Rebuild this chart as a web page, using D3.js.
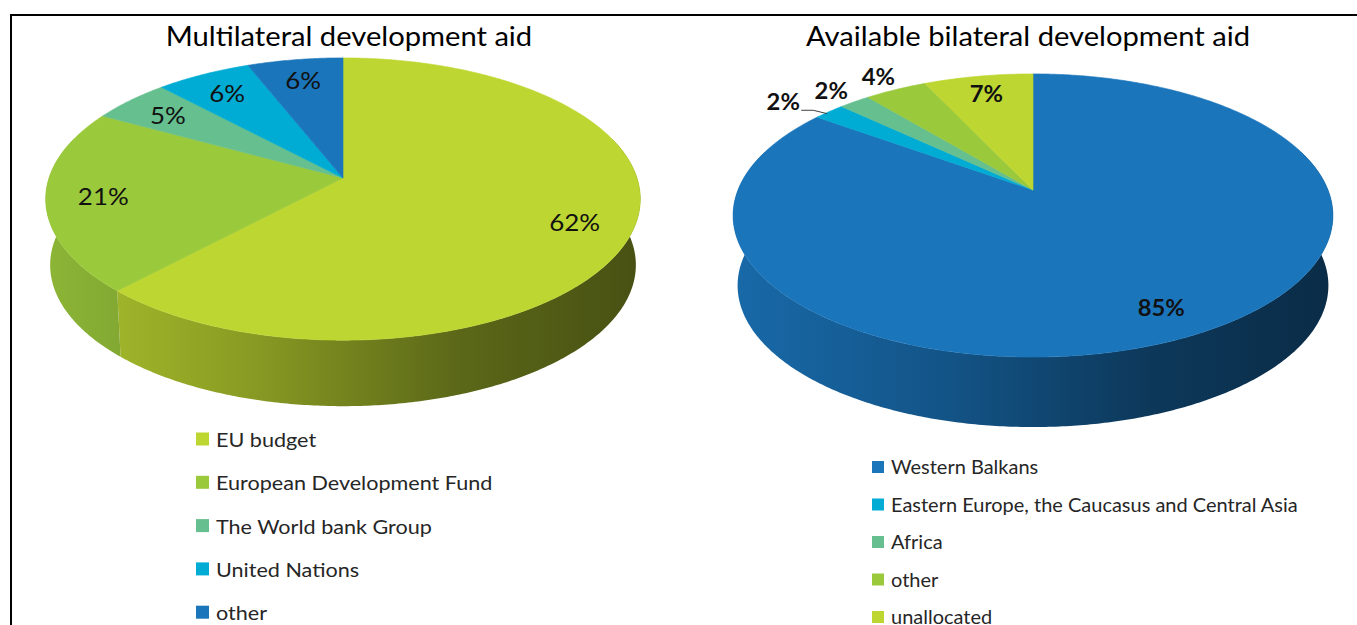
<!DOCTYPE html>
<html lang="en">
<head>
<meta charset="UTF-8">
<title>Development aid</title>
<script src="https://cdn.jsdelivr.net/npm/d3@7"></script>
<style>
  body { margin: 0; background: #fff; }
  text { font-family: Lato, "Open Sans", sans-serif; }
</style>
</head>
<body>
<svg id="chart" width="1357" height="625"></svg>
<script>
// data
const multiTitle = "Multilateral development aid";
const multiCategories = ["EU budget", "European Development Fund", "The World bank Group", "United Nations", "other"];
const multiValues = [62, 21, 5, 6, 6];
const multiColors = ["#bdd631", "#9bc93c", "#66bf8e", "#00acd4", "#1b75bb"];

const biTitle = "Available bilateral development aid";
const biCategories = ["Western Balkans", "Eastern Europe, the Caucasus and Central Asia", "Africa", "other", "unallocated"];
const biValues = [85, 2, 2, 4, 7];
const biColors = ["#1b75bb", "#00acd4", "#66bf8e", "#9bc93c", "#bdd631"];

const svg = d3.select("#chart");
const defs = svg.append("defs");
const stretch = 1.08; // the original text is a bit wide

// frame
svg.append("path")
  .attr("d", "M11,640V15H1357")
  .attr("fill", "none")
  .attr("stroke", "#000")
  .attr("stroke-width", 2);

const pie = d3.pie().sort(null).value(d => d.value);

function shade(c, f) {
  const col = d3.rgb(c);
  return d3.rgb(col.r * f, col.g * f, col.b * f).formatHex();
}

function addText(parent, x, y, str) {
  return parent.append("text")
    .attr("transform", `translate(${x},${y}) scale(${stretch},1)`)
    .text(str);
}

function drawPie(opt) {
  const g = svg.append("g");
  const data = opt.categories.map((c, i) => ({name: c, value: opt.values[i], color: opt.colors[i]}));
  const arcs = pie(data);

  // perspective projection of a point on the unit disc (angle from top, clockwise)
  const proj = (a, k, dz) => {
    const x = k * Math.sin(a), y = -k * Math.cos(a);
    const f = 1 / (1 - opt.p * y);
    let X = opt.cx + opt.A * x * f;
    const Y = opt.cy + opt.B * y * f + (dz || 0);
    if (dz) X = opt.cx + (X - opt.cx) * opt.shrink;
    return [X, Y];
  };
  const samples = (a0, a1) => {
    const n = Math.max(2, Math.ceil((a1 - a0) / 0.01));
    return d3.range(n + 1).map(i => a0 + (a1 - a0) * i / n);
  };

  // side walls (front part only)
  const lo = Math.PI / 2 - 0.3, hi = 3 * Math.PI / 2 + 0.3;
  arcs.forEach((a, i) => {
    const a0 = Math.max(a.startAngle, lo), a1 = Math.min(a.endAngle, hi);
    if (a1 <= a0) return;
    const id = opt.id + "-side-" + i;
    const grad = defs.append("linearGradient")
      .attr("id", id)
      .attr("gradientUnits", "userSpaceOnUse")
      .attr("x1", opt.cx - opt.A).attr("x2", opt.cx + opt.A)
      .attr("y1", 0).attr("y2", 0);
    [[0, 0.9], [0.35, 0.72], [0.7, 0.48], [1, 0.38]].forEach(s => {
      grad.append("stop").attr("offset", s[0]).attr("stop-color", shade(a.data.color, s[1]));
    });
    const as = samples(a0, a1);
    const top = as.map(t => proj(t, 1, 0));
    const bot = as.slice().reverse().map(t => proj(t, 1, opt.depth));
    g.append("path")
      .attr("d", d3.line()(top.concat(bot)) + "Z")
      .attr("fill", "url(#" + id + ")");
  });

  // top faces
  arcs.forEach(a => {
    const pts = [[opt.cx, opt.cy]].concat(samples(a.startAngle, a.endAngle).map(t => proj(t, 1, 0)));
    g.append("path")
      .attr("d", d3.line()(pts) + "Z")
      .attr("fill", a.data.color)
      .attr("stroke", a.data.color)
      .attr("stroke-width", 0.6);
  });

  // labels
  const labels = arcs.map(a => {
    const mid = (a.startAngle + a.endAngle) / 2;
    const outside = a.data.value < opt.outsideBelow;
    const pos = proj(mid, outside ? 1.15 : opt.labelK, 0);
    return {a, mid, outside, x: pos[0], y: pos[1], shifted: false};
  });
  for (let i = labels.length - 2; i >= 0; i--) {
    const l = labels[i], n = labels[i + 1];
    if (l.outside && n.outside && n.x - l.x < 40) {
      l.x = n.x - 48;
      l.shifted = true;
    }
  }
  labels.forEach(l => {
    if (l.shifted) {
      const e = proj(l.mid, 1, 0);
      g.append("path")
        .attr("d", `M${l.x + 18},${l.y + 9}L${l.x + 30},${l.y + 9}L${e[0] - 2},${e[1] + 2}`)
        .attr("fill", "none")
        .attr("stroke", "#404040")
        .attr("stroke-width", 1);
    }
    addText(g, l.x, l.y, l.a.data.value + "%")
      .attr("text-anchor", "middle")
      .attr("dominant-baseline", "central")
      .attr("font-size", opt.labelSize)
      .attr("font-weight", opt.labelWeight)
      .attr("fill", "#111");
  });

  // title
  addText(svg, opt.titleX, 46, opt.title)
    .attr("text-anchor", "middle")
    .attr("font-size", 27)
    .attr("fill", "#000");

  // legend
  const leg = svg.append("g");
  data.forEach((d, i) => {
    const y = opt.legY + i * opt.legStep;
    leg.append("rect")
      .attr("x", opt.legX)
      .attr("y", y - opt.legBox / 2)
      .attr("width", opt.legBox)
      .attr("height", opt.legBox)
      .attr("fill", d.color);
    addText(leg, opt.legX + opt.legBox + 7, y, d.name)
      .attr("dominant-baseline", "central")
      .attr("font-size", opt.legSize)
      .attr("fill", "#262626");
  });
}

drawPie({
  id: "multi", title: multiTitle, categories: multiCategories, values: multiValues, colors: multiColors,
  cx: 343, cy: 178, A: 294, B: 138, p: 0.149, depth: 66, shrink: 0.985,
  labelK: 0.81, outsideBelow: 0, labelSize: 24, labelWeight: "normal",
  titleX: 349,
  legX: 196, legY: 439, legStep: 43.3, legBox: 13, legSize: 20
});

drawPie({
  id: "bi", title: biTitle, categories: biCategories, values: biValues, colors: biColors,
  cx: 1033, cy: 190, A: 295, B: 137, p: 0.18, depth: 70, shrink: 0.985,
  labelK: 0.83, outsideBelow: 5, labelSize: 22, labelWeight: "bold",
  titleX: 1028,
  legX: 872, legY: 467, legStep: 37.5, legBox: 12, legSize: 18.5
});
</script>
</body>
</html>
